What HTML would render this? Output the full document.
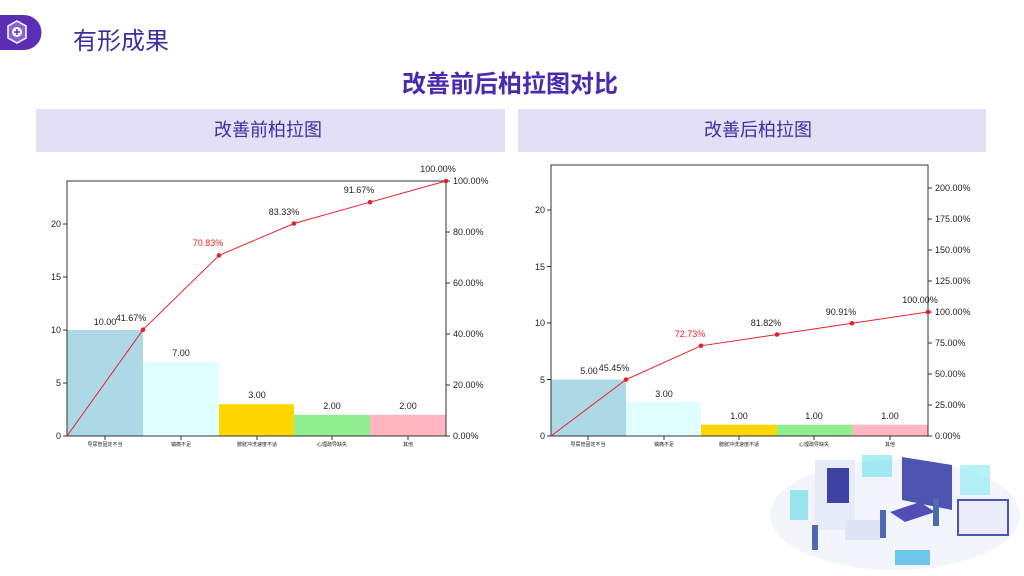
<!DOCTYPE html>
<html><head><meta charset="utf-8"><style>
html,body{margin:0;padding:0;background:#fff;width:1024px;height:576px;overflow:hidden;}
svg{display:block;}
body{font-family:"Liberation Sans","Noto Sans CJK SC",sans-serif;}
</style></head><body>
<svg width="1024" height="576" viewBox="0 0 1024 576" xmlns="http://www.w3.org/2000/svg" font-family="Liberation Sans, Noto Sans CJK SC, sans-serif" style="overflow:hidden">
<rect width="1024" height="576" fill="#fff"/>
<path d="M0 15 H24 A17.5 17.5 0 0 1 24 50 H0 Z" fill="#5b2fb5"/>
<polygon points="17,21 26,26 26,38 17,43 8,38 8,26" fill="#8a63d2" stroke="#fff" stroke-width="1.5"/>
<circle cx="17" cy="32" r="5" fill="#fff"/>
<path d="M17 29v6M14 32h6" stroke="#5b2fb5" stroke-width="1.5"/>
<text x="73" y="49" font-size="24" fill="#3a2fa0">有形成果</text>
<text x="510" y="92" font-size="24" font-weight="bold" fill="#4a2bb0" text-anchor="middle">改善前后柏拉图对比</text>
<rect x="36" y="109" width="469" height="43" fill="#e3dff5"/>
<rect x="518" y="109" width="468" height="43" fill="#e3dff5"/>
<text x="268" y="136" font-size="18" fill="#3a2fa0" text-anchor="middle">改善前柏拉图</text>
<text x="758" y="136" font-size="18" fill="#3a2fa0" text-anchor="middle">改善后柏拉图</text>

<g font-size="9" fill="#222">
<rect x="67" y="330" width="76" height="106" fill="#add8e6"/>
<rect x="143" y="361.8" width="76" height="74.2" fill="#e0ffff"/>
<rect x="219" y="404.2" width="75" height="31.8" fill="#ffd700"/>
<rect x="294" y="414.8" width="76" height="21.2" fill="#90ee90"/>
<rect x="370" y="414.8" width="76" height="21.2" fill="#ffb6c1"/>
<rect x="67" y="181" width="379" height="255" fill="none" stroke="#333" stroke-width="1"/>
<g stroke="#333"><line x1="63" y1="436" x2="67" y2="436"/><line x1="63" y1="383" x2="67" y2="383"/><line x1="63" y1="330" x2="67" y2="330"/><line x1="63" y1="277" x2="67" y2="277"/><line x1="63" y1="224" x2="67" y2="224"/>
<line x1="446" y1="436" x2="450" y2="436"/><line x1="446" y1="385" x2="450" y2="385"/><line x1="446" y1="334" x2="450" y2="334"/><line x1="446" y1="283" x2="450" y2="283"/><line x1="446" y1="232" x2="450" y2="232"/><line x1="446" y1="181" x2="450" y2="181"/>
<line x1="105" y1="436" x2="105" y2="440"/><line x1="181" y1="436" x2="181" y2="440"/><line x1="257" y1="436" x2="257" y2="440"/><line x1="332" y1="436" x2="332" y2="440"/><line x1="408" y1="436" x2="408" y2="440"/></g>
<g text-anchor="end"><text x="61" y="439">0</text><text x="61" y="386">5</text><text x="61" y="333">10</text><text x="61" y="280">15</text><text x="61" y="227">20</text></g>
<g><text x="453" y="439">0.00%</text><text x="453" y="388">20.00%</text><text x="453" y="337">40.00%</text><text x="453" y="286">60.00%</text><text x="453" y="235">80.00%</text><text x="453" y="184">100.00%</text></g>
<g font-size="5" text-anchor="middle"><text x="105" y="446">导尿管固定不当</text><text x="181" y="446">镇痛不足</text><text x="257" y="446">膀胱冲洗速度不适</text><text x="332" y="446">心理疏导缺失</text><text x="408" y="446">其他</text></g>
<g text-anchor="middle"><text x="105" y="325">10.00</text><text x="181" y="356">7.00</text><text x="257" y="398">3.00</text><text x="332" y="409">2.00</text><text x="408" y="409">2.00</text>
<text x="131" y="321">41.67%</text><text x="208" y="246" fill="#e22">70.83%</text><text x="284" y="215">83.33%</text><text x="359" y="193">91.67%</text><text x="438" y="172">100.00%</text></g>
<polyline points="67,436 143,329.7 219,255.4 294,223.5 370,202.2 446,181" fill="none" stroke="#e8202a" stroke-width="1"/>
<g fill="#e8202a"><circle cx="143" cy="329.7" r="2.3"/><circle cx="219" cy="255.4" r="2.3"/><circle cx="294" cy="223.5" r="2.3"/><circle cx="370" cy="202.2" r="2.3"/><circle cx="446" cy="181" r="2.3"/></g>
</g>

<g font-size="9" fill="#222">
<rect x="551" y="379.5" width="75" height="56.5" fill="#add8e6"/>
<rect x="626" y="402.1" width="75" height="33.9" fill="#e0ffff"/>
<rect x="701" y="424.7" width="76" height="11.3" fill="#ffd700"/>
<rect x="777" y="424.7" width="75" height="11.3" fill="#90ee90"/>
<rect x="852" y="424.7" width="76" height="11.3" fill="#ffb6c1"/>
<rect x="551" y="165" width="377" height="271" fill="none" stroke="#333" stroke-width="1"/>
<g stroke="#333"><line x1="547" y1="436" x2="551" y2="436"/><line x1="547" y1="379.5" x2="551" y2="379.5"/><line x1="547" y1="323" x2="551" y2="323"/><line x1="547" y1="266.5" x2="551" y2="266.5"/><line x1="547" y1="210" x2="551" y2="210"/>
<line x1="928" y1="436" x2="932" y2="436"/><line x1="928" y1="405" x2="932" y2="405"/><line x1="928" y1="374" x2="932" y2="374"/><line x1="928" y1="343" x2="932" y2="343"/><line x1="928" y1="312" x2="932" y2="312"/><line x1="928" y1="281" x2="932" y2="281"/><line x1="928" y1="250" x2="932" y2="250"/><line x1="928" y1="219" x2="932" y2="219"/><line x1="928" y1="188" x2="932" y2="188"/>
<line x1="588" y1="436" x2="588" y2="440"/><line x1="664" y1="436" x2="664" y2="440"/><line x1="739" y1="436" x2="739" y2="440"/><line x1="814" y1="436" x2="814" y2="440"/><line x1="890" y1="436" x2="890" y2="440"/></g>
<g text-anchor="end"><text x="545" y="439">0</text><text x="545" y="383">5</text><text x="545" y="326">10</text><text x="545" y="270">15</text><text x="545" y="213">20</text></g>
<g><text x="935" y="439">0.00%</text><text x="935" y="408">25.00%</text><text x="935" y="377">50.00%</text><text x="935" y="346">75.00%</text><text x="935" y="315">100.00%</text><text x="935" y="284">125.00%</text><text x="935" y="253">150.00%</text><text x="935" y="222">175.00%</text><text x="935" y="191">200.00%</text></g>
<g font-size="5" text-anchor="middle"><text x="588" y="446">导尿管固定不当</text><text x="664" y="446">镇痛不足</text><text x="739" y="446">膀胱冲洗速度不适</text><text x="814" y="446">心理疏导缺失</text><text x="890" y="446">其他</text></g>
<g text-anchor="middle"><text x="589" y="374">5.00</text><text x="664" y="397">3.00</text><text x="739" y="419">1.00</text><text x="814" y="419">1.00</text><text x="890" y="419">1.00</text>
<text x="614" y="371">45.45%</text><text x="690" y="337" fill="#e22">72.73%</text><text x="766" y="326">81.82%</text><text x="841" y="315">90.91%</text><text x="920" y="303">100.00%</text></g>
<polyline points="551,436 626,379.6 701,345.8 777,334.5 852,323.3 928,312" fill="none" stroke="#e8202a" stroke-width="1"/>
<g fill="#e8202a"><circle cx="626" cy="379.6" r="2.3"/><circle cx="701" cy="345.8" r="2.3"/><circle cx="777" cy="334.5" r="2.3"/><circle cx="852" cy="323.3" r="2.3"/><circle cx="928" cy="312" r="2.3"/></g>
</g>

<g opacity="0.9">
<ellipse cx="895" cy="515" rx="125" ry="55" fill="#f2f4fc"/>
<rect x="815" y="460" width="40" height="70" fill="#e6ebf8"/>
<rect x="827" y="468" width="22" height="35" fill="#2a2f9a"/>
<polygon points="902,457 952,465 952,510 902,500" fill="#3b43a8"/>
<rect x="862" y="455" width="30" height="22" fill="#5ee0e8" opacity="0.6"/>
<rect x="960" y="465" width="30" height="30" fill="#7ae8ef" opacity="0.6"/>
<rect x="790" y="490" width="18" height="30" fill="#8fe0ea"/>
<polygon points="890,512 920,502 935,512 905,522" fill="#3f3db0"/>
<rect x="845" y="520" width="35" height="20" fill="#dde3f6"/>
<rect x="958" y="500" width="50" height="35" fill="#e8ecf9" stroke="#3b43a8" stroke-width="2"/>
<rect x="895" y="550" width="35" height="15" fill="#5fc2e8"/>
<rect x="812" y="525" width="6" height="25" fill="#3a5aa8"/>
<rect x="880" y="510" width="6" height="28" fill="#3a5aa8"/>
<rect x="933" y="498" width="6" height="28" fill="#3a5aa8"/>
</g>
</svg>
</body></html>
